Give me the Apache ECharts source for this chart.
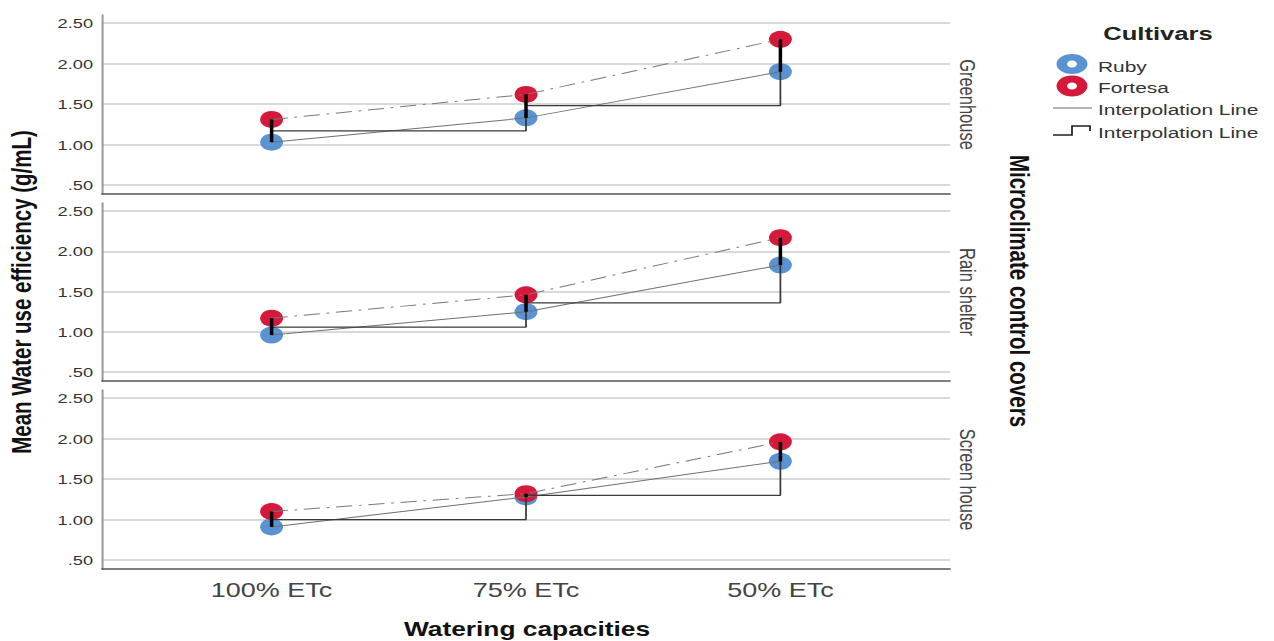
<!DOCTYPE html>
<html>
<head>
<meta charset="utf-8">
<script src="https://cdn.jsdelivr.net/npm/echarts@6/dist/echarts.min.js"></script>
<style>
  html, body { margin: 0; padding: 0; background: #fff; overflow: hidden; width: 1274px; height: 641px; }
  /* the reference is a horizontally stretched SPSS chart: draw at narrower width and stretch */
  #chart { width: 944px; height: 641px; transform: scaleX(1.34958); transform-origin: 0 0; }
</style>
</head>
<body>
<div id="chart"></div>
<script>
// ---- data ----
const categories = ['100% ETc', '75% ETc', '50% ETc'];
const panelNames = ['Greenhouse', 'Rain shelter', 'Screen house'];
const yTicks = [0.5, 1.0, 1.5, 2.0, 2.5];

const rubyGreenhouse = [1.03, 1.33, 1.90];
const fortesaGreenhouse = [1.31, 1.62, 2.30];
const stepGreenhouse = [1.17, 1.48, 2.10];

const rubyRainShelter = [0.96, 1.25, 1.83];
const fortesaRainShelter = [1.17, 1.46, 2.17];
const stepRainShelter = [1.06, 1.36, 2.00];

const rubyScreenHouse = [0.91, 1.28, 1.72];
const fortesaScreenHouse = [1.10, 1.32, 1.96];
const stepScreenHouse = [1.00, 1.30, 1.84];

const panelData = [
  { ruby: rubyGreenhouse, fortesa: fortesaGreenhouse, step: stepGreenhouse },
  { ruby: rubyRainShelter, fortesa: fortesaRainShelter, step: stepRainShelter },
  { ruby: rubyScreenHouse, fortesa: fortesaScreenHouse, step: stepScreenHouse }
];

// ---- layout (unstretched coordinates; stretched by K in CSS) ----
const K = 1.34958;
const sx = v => v / K;
const FONT = '"Liberation Sans", Arial, sans-serif';
const RUBY = '#5a93d3';
const FORTESA = '#d6193b';
const gridTops = [15, 203, 390];
const gridHeights = [179, 178, 179];

const chart = echarts.init(document.getElementById('chart'), null, { renderer: 'svg', width: 944, height: 641 });

const grids = [], xAxes = [], yAxes = [], series = [];
panelData.forEach((p, i) => {
  grids.push({ left: sx(102), top: gridTops[i], width: sx(848), height: gridHeights[i] });
  xAxes.push({
    type: 'value', gridIndex: i, min: -2/3, max: 8/3,
    splitLine: { show: false },
    axisLine: { show: true, onZero: false, lineStyle: { color: '#555', width: 1.5 } },
    axisTick: { show: false, customValues: [0, 1, 2] },
    axisLabel: {
      show: i === 2, customValues: [0, 1, 2], margin: 11,
      formatter: v => categories[Math.round(v)] || '',
      fontFamily: FONT, fontSize: 20, color: '#444'
    }
  });
  yAxes.push({
    type: 'value', gridIndex: i, min: 0.39, max: 2.6,
    axisLine: { show: true, onZero: false, lineStyle: { color: '#999', width: 1.5 } },
    axisTick: { show: false, customValues: yTicks },
    axisLabel: {
      customValues: yTicks, margin: sx(9),
      formatter: v => v.toFixed(2).replace(/^0/, ''),
      fontFamily: FONT, fontSize: 13.5, color: '#333'
    },
    splitLine: { show: true, lineStyle: { color: '#cdcdcd', width: 1.5 } }
  });
  const pts = arr => arr.map((v, j) => [j, v]);
  series.push({
    type: 'scatter', xAxisIndex: i, yAxisIndex: i, name: 'Ruby',
    data: pts(p.ruby), symbol: 'circle', symbolSize: 17,
    itemStyle: { color: RUBY, opacity: 1 }, z: 2, silent: true
  });
  series.push({
    type: 'scatter', xAxisIndex: i, yAxisIndex: i, name: 'Fortesa',
    data: pts(p.fortesa), symbol: 'circle', symbolSize: 17,
    itemStyle: { color: FORTESA, opacity: 1 }, z: 3, silent: true
  });
  series.push({
    type: 'line', xAxisIndex: i, yAxisIndex: i, data: pts(p.ruby),
    showSymbol: false, lineStyle: { color: '#707070', width: 1 }, z: 4, silent: true
  });
  series.push({
    type: 'line', xAxisIndex: i, yAxisIndex: i, data: pts(p.fortesa),
    showSymbol: false, lineStyle: { color: '#7a7a7a', width: 1, type: [12, 5, 2, 5] }, z: 4, silent: true
  });
  series.push({
    type: 'line', xAxisIndex: i, yAxisIndex: i, data: pts(p.step), step: 'end',
    showSymbol: false, lineStyle: { color: '#3a3a3a', width: 1.3 }, z: 5, silent: true
  });
  series.push({
    type: 'custom', xAxisIndex: i, yAxisIndex: i, z: 6, silent: true,
    data: p.ruby.map((v, j) => [j, v, p.fortesa[j]]),
    renderItem: (params, api) => {
      const a = api.coord([api.value(0), api.value(1)]);
      const b = api.coord([api.value(0), api.value(2)]);
      return { type: 'line', shape: { x1: a[0], y1: a[1], x2: b[0], y2: b[1] },
               style: { stroke: '#000', lineWidth: 2.6 } };
    }
  });
});

const graphics = [];
// facet labels
panelNames.forEach((n, i) => {
  graphics.push({
    type: 'text', x: sx(968), y: gridTops[i] + gridHeights[i] / 2, rotation: -Math.PI / 2,
    style: { text: n, fontFamily: FONT, fontSize: 16.5, fill: '#444', align: 'center', verticalAlign: 'middle' }
  });
});
// axis titles
graphics.push({
  type: 'text', x: sx(21), y: 292, rotation: Math.PI / 2,
  style: { text: 'Mean Water use efficiency (g/mL)', fontFamily: FONT, fontSize: 20.5, fontWeight: 'bold',
           fill: '#111', align: 'center', verticalAlign: 'middle' }
});
graphics.push({
  type: 'text', x: sx(1020), y: 291, rotation: -Math.PI / 2,
  style: { text: 'Microclimate control covers', fontFamily: FONT, fontSize: 20.5, fontWeight: 'bold',
           fill: '#111', align: 'center', verticalAlign: 'middle' }
});
graphics.push({
  type: 'text', x: sx(527), y: 629,
  style: { text: 'Watering capacities', fontFamily: FONT, fontSize: 19.5, fontWeight: 'bold',
           fill: '#111', align: 'center', verticalAlign: 'middle' }
});
// legend
graphics.push({
  type: 'text', x: sx(1158), y: 34,
  style: { text: 'Cultivars', fontFamily: FONT, fontSize: 19, fontWeight: 'bold',
           fill: '#222', align: 'center', verticalAlign: 'middle' }
});
graphics.push({ type: 'ellipse', shape: { cx: sx(1072), cy: 64, rx: sx(15.5), ry: 10 }, style: { fill: RUBY } });
graphics.push({ type: 'ellipse', shape: { cx: sx(1072), cy: 64, rx: sx(5), ry: 3.5 }, style: { fill: '#fff' } });
graphics.push({ type: 'ellipse', shape: { cx: sx(1072), cy: 86, rx: sx(15.5), ry: 10.5 }, style: { fill: FORTESA } });
graphics.push({ type: 'ellipse', shape: { cx: sx(1072), cy: 86, rx: sx(5), ry: 3.5 }, style: { fill: '#fff' } });
const legendTexts = [['Ruby', 67], ['Fortesa', 88], ['Interpolation Line', 110], ['Interpolation Line', 133]];
legendTexts.forEach(([t, y]) => {
  graphics.push({
    type: 'text', x: sx(1098), y: y,
    style: { text: t, fontFamily: FONT, fontSize: 15.5, fill: '#333', align: 'left', verticalAlign: 'middle' }
  });
});
graphics.push({ type: 'line', shape: { x1: sx(1053), y1: 108, x2: sx(1092), y2: 108 }, style: { stroke: '#999', lineWidth: 1.5 } });
graphics.push({
  type: 'polyline',
  shape: { points: [[sx(1053), 135], [sx(1072), 135], [sx(1072), 126], [sx(1090), 126], [sx(1090), 131]] },
  style: { stroke: '#222', lineWidth: 1.3, fill: null }
});

chart.setOption({
  animation: false,
  backgroundColor: '#fff',
  grid: grids,
  xAxis: xAxes,
  yAxis: yAxes,
  series: series,
  graphic: graphics
});
</script>
</body>
</html>
